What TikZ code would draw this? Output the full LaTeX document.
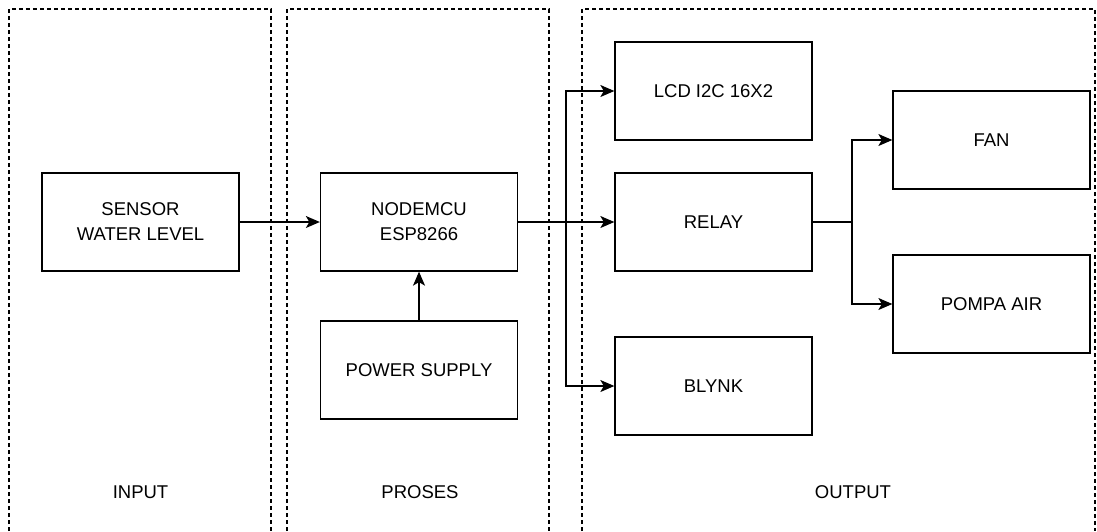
\documentclass[tikz,border=0pt]{standalone}
\usepackage{fontspec}
\setmainfont{Liberation Sans}
\usepackage{tikz}
\usetikzlibrary{arrows.meta,positioning}

\begin{document}
\begin{tikzpicture}[x=1pt,y=-1pt,
    block/.style={draw,line width=1.3pt,minimum width=197pt,minimum height=98pt,
      align=center,font=\fontsize{18.5}{25}\selectfont},
    zone/.style={draw,line width=1.3pt,dash pattern=on 4pt off 3pt},
    arr/.style={-{Stealth[length=14pt,width=12pt,inset=3.5pt]},line width=1.3pt},
    lbl/.style={font=\fontsize{18.5}{22}\selectfont}]
  \useasboundingbox (0,0) rectangle (1097,531);

  % Draw zones
  \draw[zone] (9,531)--(9,9)--(271,9)--(271,531);
  \draw[zone] (287,531)--(287,9)--(549,9)--(549,531);
  \draw[zone] (582,531)--(582,9)--(1095,9)--(1095,531);
  \node[lbl] (input) at (140.5,492) {INPUT};
  \node[lbl] (proses) at (420,492) {PROSES};
  \node[lbl] (output) at (853,492) {OUTPUT};

  % Blocks
  \node[block] (sensor) at (140.5,222) {SENSOR\\WATER LEVEL};
  \node[block] (nodemcu) at (419,222) {NODEMCU\\ESP8266};
  \node[block] (power) at (419,370) {POWER SUPPLY};
  \node[block] (lcd) at (713.5,91) {LCD I2C 16X2};
  \node[block] (relay) at (713.5,222) {RELAY};
  \node[block] (blynk) at (713.5,386) {BLYNK};
  \node[block] (fan) at (991.5,140) {FAN};
  \node[block] (pompa) at (991.5,304) {POMPA AIR};

  % Connectors
  \coordinate (split) at (566,222);
  \coordinate (relaysplit) at (852,222);
  \draw[arr] (sensor) -- (nodemcu);
  \draw[arr] (power) -- (nodemcu);
  \draw[arr] (nodemcu) -- (relay);
  \draw[arr] (split) |- (lcd);
  \draw[arr] (split) |- (blynk);
  \draw[line width=1.3pt] (relay) -- (relaysplit);
  \draw[arr] (relaysplit) |- (fan);
  \draw[arr] (relaysplit) |- (pompa);
\end{tikzpicture}
\end{document}
